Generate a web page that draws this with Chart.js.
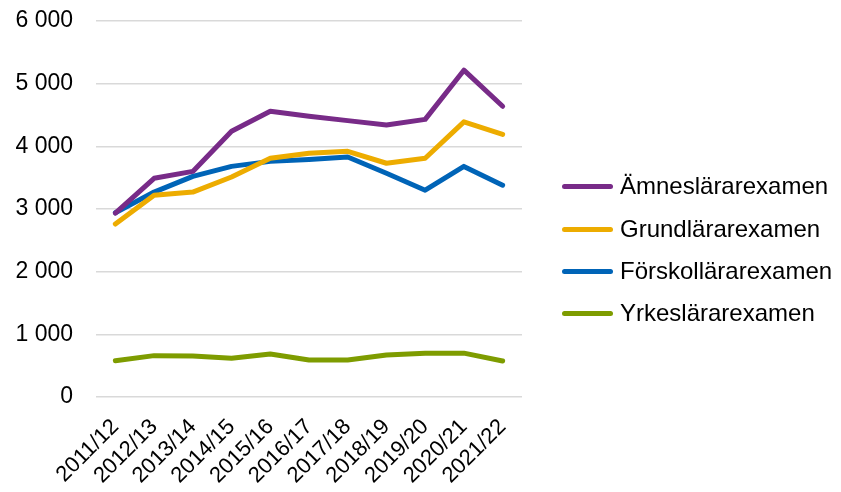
<!DOCTYPE html>
<html>
<head>
<meta charset="utf-8">
<script src="https://cdn.jsdelivr.net/npm/chart.js@4.4.1/dist/chart.umd.min.js"></script>
<style>
  html, body { margin: 0; padding: 0; background: #fff; }
  #wrap { position: relative; width: 841px; height: 492px; }
  #legend { position: absolute; left: 560px; top: 0; font: 24px 'Liberation Sans', Arial, sans-serif; color: #000; }
  #legend .item { position: absolute; left: 0; height: 30px; white-space: nowrap; }
  #legend .sw { position: absolute; left: 2px; top: 13px; width: 51px; height: 5px; border-radius: 3px; }
  #legend .txt { position: absolute; left: 60px; top: 0; line-height: 30px; }
</style>
</head>
<body>
<div id="wrap">
  <canvas id="c" width="841" height="492"></canvas>
  <div id="legend"></div>
</div>
<script>
// läsåren
const labels = ['2011/12','2012/13','2013/14','2014/15','2015/16','2016/17','2017/18','2018/19','2019/20','2020/21','2021/22'];

// examina per examenstyp
const amneslarar = [2935, 3490, 3600, 4240, 4560, 4480, 4410, 4340, 4430, 5215, 4640];
const grundlarar = [2760, 3220, 3270, 3510, 3810, 3890, 3920, 3730, 3810, 4390, 4190];
const forskollarar = [2940, 3270, 3520, 3680, 3760, 3790, 3830, 3570, 3300, 3680, 3380];
const yrkeslarar = [580, 660, 655, 620, 685, 590, 590, 670, 700, 700, 575];

const yTicks = [0, 1000, 2000, 3000, 4000, 5000, 6000];

const series = [
  { label: 'Ämneslärarexamen', data: amneslarar, color: '#782B88' },
  { label: 'Grundlärarexamen', data: grundlarar, color: '#EDAC00' },
  { label: 'Förskollärarexamen', data: forskollarar, color: '#0064B7' },
  { label: 'Yrkeslärarexamen', data: yrkeslarar, color: '#7E9C00' },
];

const font = "'Liberation Sans', Arial, sans-serif";
const fmt = v => String(v).replace(/\B(?=(\d{3})+(?!\d))/g, ' ');

new Chart(document.getElementById('c'), {
  type: 'line',
  data: {
    labels,
    datasets: series.map(s => ({
      label: s.label,
      data: s.data,
      borderColor: s.color,
      backgroundColor: s.color,
      borderWidth: 5,
      pointRadius: 0,
      tension: 0,
      borderCapStyle: 'round',
      borderJoinStyle: 'round',
      fill: false
    }))
  },
  options: {
    responsive: false,
    animation: false,
    layout: { padding: { left: 0, right: 319, top: 21, bottom: 0 } },
    plugins: { legend: { display: false }, tooltip: { enabled: false } },
    scales: {
      x: {
        offset: true,
        grid: { display: false, drawTicks: false },
        border: { display: false },
        ticks: { color: '#000', font: { family: font, size: 22 }, minRotation: 45, maxRotation: 45, padding: 17, autoSkip: false },
        afterFit: s => { s.height = 95; }
      },
      y: {
        min: 0, max: 6000,
        afterBuildTicks: s => { s.ticks = yTicks.map(v => ({ value: v })); },
        grid: { color: '#D9D9D9', lineWidth: 1.5, drawTicks: false },
        border: { display: false },
        ticks: { color: '#000', font: { family: font, size: 23 }, padding: 23, callback: v => fmt(v) },
        afterFit: s => { s.width = 96; s.paddingTop = 0; s.paddingBottom = 0; }
      }
    }
  }
});

const legendRows = [186, 229, 271, 313];
const lg = document.getElementById('legend');
series.forEach((s, i) => {
  const it = document.createElement('div');
  it.className = 'item';
  it.style.top = (legendRows[i] - 15) + 'px';
  it.innerHTML = '<span class="sw" style="background:' + s.color + '"></span><span class="txt">' + s.label + '</span>';
  lg.appendChild(it);
});
</script>
</body>
</html>
